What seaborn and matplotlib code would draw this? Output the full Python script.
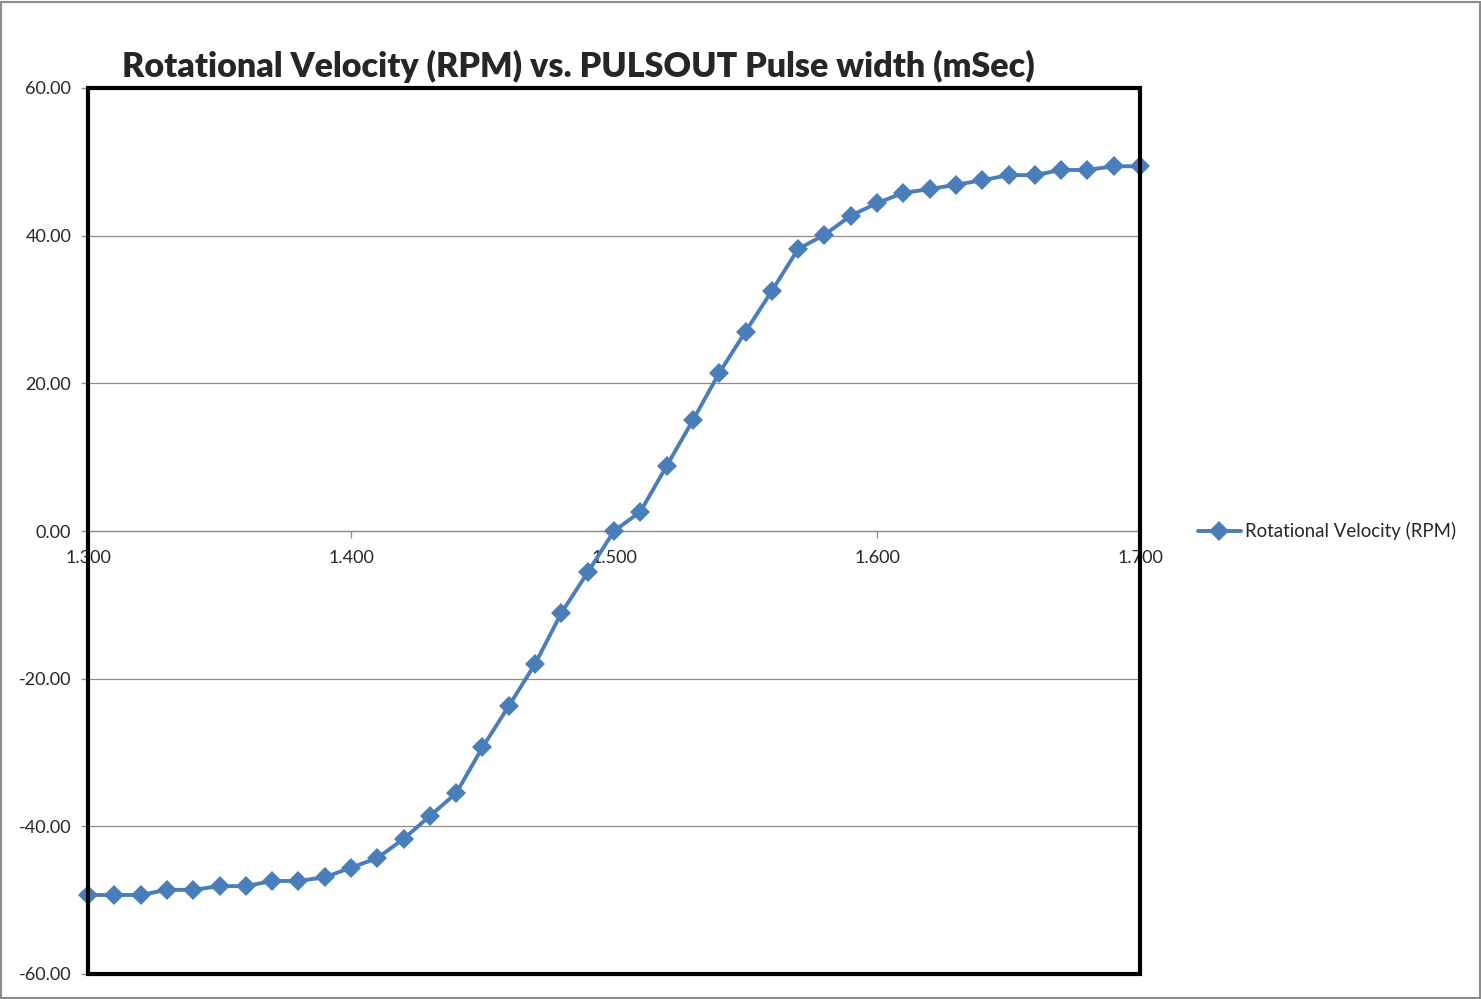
import numpy as np
import pandas as pd
import matplotlib
matplotlib.use('Agg')
import matplotlib.pyplot as plt
import seaborn as sns
from matplotlib.patches import Rectangle
from matplotlib.ticker import FormatStrFormatter

# --- 数据 ---
pulse_width = [1.30, 1.31, 1.32, 1.33, 1.34, 1.35, 1.36, 1.37, 1.38, 1.39,
               1.40, 1.41, 1.42, 1.43, 1.44, 1.45, 1.46, 1.47, 1.48, 1.49,
               1.50, 1.51, 1.52, 1.53, 1.54, 1.55, 1.56, 1.57, 1.58, 1.59,
               1.60, 1.61, 1.62, 1.63, 1.64, 1.65, 1.66, 1.67, 1.68, 1.69, 1.70]
rpm = [-49.3, -49.3, -49.3, -48.6, -48.6, -48.1, -48.1, -47.4, -47.4, -46.9,
       -45.6, -44.3, -41.7, -38.6, -35.5, -29.3, -23.7, -18.0, -11.1, -5.6,
       0.0, 2.6, 8.8, 15.0, 21.4, 27.0, 32.5, 38.2, 40.1, 42.7,
       44.4, 45.8, 46.3, 46.9, 47.5, 48.2, 48.2, 48.9, 48.9, 49.4, 49.4]
x_ticks = [1.3, 1.4, 1.5, 1.6, 1.7]
y_ticks = [-60, -40, -20, 0, 20, 40, 60]
series_name = 'Rotational Velocity (RPM)'
title = 'Rotational Velocity (RPM) vs. PULSOUT Pulse width (mSec)'

df = pd.DataFrame({'Pulse': pulse_width, 'RPM': rpm, 'Series': series_name})

sns.set_style('white')
plt.rcParams['font.family'] = ['Lato', 'DejaVu Sans']

fig = plt.figure(figsize=(14.81, 9.99), dpi=100)
ax = fig.add_axes([88 / 1481, 1 - 974 / 999, (1140 - 88) / 1481, (974 - 88) / 999])

sns.lineplot(data=df, x='Pulse', y='RPM', hue='Series', palette=['#4A7EBB'],
             marker='D', markersize=10, markeredgewidth=0, linewidth=2.8,
             ax=ax, clip_on=False, zorder=5)

ax.set_xlim(1.3, 1.7)
ax.set_ylim(-60, 60)
ax.set_xticks(x_ticks)
ax.set_yticks(y_ticks)
ax.xaxis.set_major_formatter(FormatStrFormatter('%.3f'))
ax.yaxis.set_major_formatter(FormatStrFormatter('%.2f'))
ax.set_xlabel('')
ax.set_ylabel('')

# 横向网格线
ax.yaxis.grid(True, color='#8c8c8c', linewidth=0.9)
ax.xaxis.grid(False)

# x轴放在 y=0 处
for s in ['top', 'right', 'left']:
    ax.spines[s].set_visible(False)
ax.spines['bottom'].set_position(('data', 0))
ax.spines['bottom'].set_color('#8c8c8c')
ax.spines['bottom'].set_linewidth(0.9)

ax.tick_params(axis='x', direction='out', length=5, width=0.9, color='#8c8c8c',
               pad=9, labelsize=13, bottom=True)
ax.tick_params(axis='y', direction='out', length=5, width=0.9, color='#8c8c8c',
               pad=7, labelsize=13, left=True)

# 黑色粗边框
ax.add_patch(Rectangle((0, 0), 1, 1, transform=ax.transAxes, fill=False,
                       edgecolor='black', linewidth=3, clip_on=False, zorder=10))

fig.text(122 / 1481, 1 - 66 / 999, title, fontsize=24.5, fontweight='heavy',
         ha='left', va='center')

leg = ax.legend(loc='center left', bbox_to_anchor=(1181 / 1481, 1 - 531 / 999),
                bbox_transform=fig.transFigure, frameon=False, fontsize=13.4,
                handlelength=2.3, handletextpad=0.25)

# 外边框
fig.patches.append(Rectangle((0.001, 0.001), 0.998, 0.997, transform=fig.transFigure,
                             fill=False, edgecolor='#8c8c8c', linewidth=1.5))

fig.savefig('out.png', dpi=100)
plt.close(fig)
